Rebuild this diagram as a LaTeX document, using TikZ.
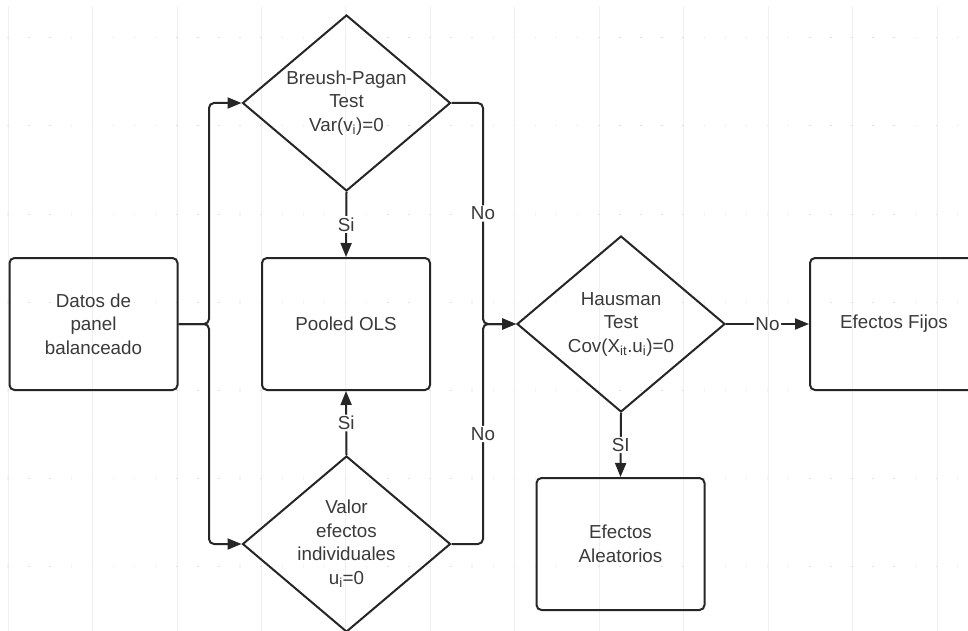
\documentclass[tikz,border=0pt]{standalone}
\usepackage{fontspec}
\setmainfont{Liberation Sans}
\usetikzlibrary{shapes.geometric,arrows.meta}
\definecolor{ln}{HTML}{262626}
\definecolor{tx}{HTML}{3A3A3A}
\begin{document}
\begin{tikzpicture}[x=1pt,y=-1pt,
  every node/.style={font=\fontsize{18.8}{23.5}\selectfont, text=tx},
  box/.style={draw=ln, line width=2pt, rounded corners=5pt, minimum width=168pt, minimum height=132pt, align=center, inner sep=0pt},
  dia/.style={draw=ln, line width=2pt, diamond, minimum width=208pt, minimum height=176pt, inner sep=0pt},
  flow/.style={draw=ln, line width=2pt, rounded corners=5pt, -{Triangle[length=14pt,width=11pt]}},
  lbl/.style={fill=white, inner sep=1.5pt},
  dtext/.style={align=center}]
\useasboundingbox (0,0) rectangle (968,631);
\clip (0,0) rectangle (968,631);
\fill[white] (0,0) rectangle (968,631);
% faint background grid
\foreach \i in {0,...,11} \draw[black!6, line width=0.8pt] ({8+84.45*\i},6) -- ({8+84.45*\i},631);
\foreach \j in {0,...,6} \draw[black!12, line width=1pt, dash pattern=on 1.5pt off 19.6pt] (7.25,{38+88*\j}) -- (968,{38+88*\j});
% nodes
\node[box] (datos) at (93.5,324) {Datos de\\panel\\balanceado};
\node[box] (pooled) at (346,324) {Pooled OLS};
\node[box] (fijos) at (894,324) {Efectos Fijos};
\node[box] (alea) at (620.5,544) {Efectos\\Aleatorios};
\node[dia, label={[dtext]center:Breush-Pagan\\Test\\Var(v\textsubscript{i})=0}] (bp) at (346.5,103) {};
\node[dia, label={[dtext]center:Valor\\efectos\\individuales\\u\textsubscript{i}=0}] (valor) at (346.5,544) {};
\node[dia, label={[dtext]center:Hausman\\Test\\Cov(X\textsubscript{it}.u\textsubscript{i})=0}] (haus) at (621,324) {};
\coordinate (j1) at (209,324);
\coordinate (j2) at (483,324);
% connectors
\draw[flow] (datos.east) -- (j1) |- (bp.west);
\draw[flow] (datos.east) -- (j1) |- (valor.west);
\draw[flow] (bp.south) -- node[lbl]{Si} (pooled.north);
\draw[flow] (valor.north) -- node[lbl]{Si} (pooled.south);
\draw[flow] (bp.east) -| node[lbl,pos=0.75]{No} (j2) -- (haus.west);
\draw[flow] (valor.east) -| node[lbl,pos=0.75]{No} (j2) -- (haus.west);
\draw[flow] (haus.east) -- node[lbl]{No} (fijos.west);
\draw[flow] (haus.south) -- node[lbl]{SI} (alea.north);
\end{tikzpicture}
\end{document}
